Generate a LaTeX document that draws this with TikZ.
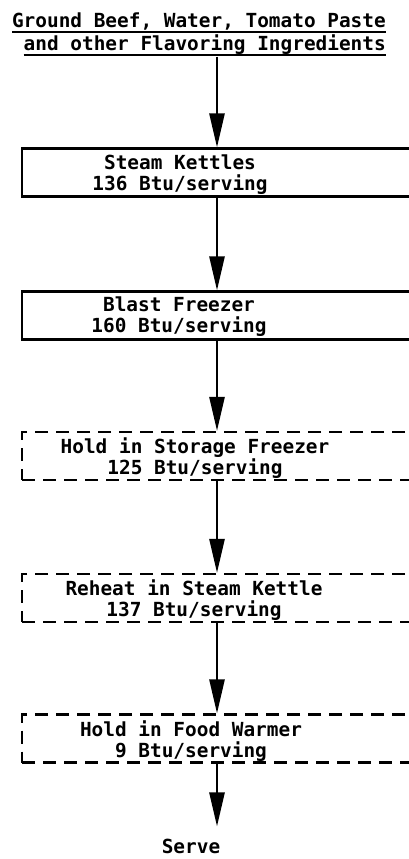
\documentclass[tikz,border=0pt]{standalone}
\usepackage{fontspec}
\setmonofont{DejaVu Sans Mono}
\usetikzlibrary{arrows.meta}
\newsavebox{\ulbox}
\newcommand{\ulinetext}[1]{\sbox\ulbox{#1}\rlap{\rule[-6pt]{\wd\ulbox}{2.2pt}}\usebox\ulbox}

\begin{document}
\begin{tikzpicture}[x=1pt, y=-1pt,
  boxtext/.style={font=\fontsize{19.4}{21}\selectfont\ttfamily\bfseries,
                  align=center, inner sep=0pt},
  solidbox/.style={draw, line width=2.2pt, anchor=west, inner sep=0pt,
                   minimum width=409pt, minimum height=48pt},
  dashbox/.style={solidbox, dash pattern=on 13pt off 8pt},
  flowarrow/.style={-{Triangle[length=34pt, width=15pt]}, line width=2.6pt}
]
\clip (0,0) rectangle (409,859);
\coordinate (spine) at (217,0);

% ingredients
\node[boxtext, font=\fontsize{19.4}{23}\selectfont\ttfamily\bfseries,
      align=right, anchor=north east] (ingredients) at (386,12.5)
  {\ulinetext{Ground Beef, Water, Tomato Paste}\\
   \ulinetext{and other Flavoring Ingredients}};

% process steps
\node[solidbox] (kettlesbox) at (21,172.5) {};
\node[boxtext] (kettles) at (180,174.4) {Steam Kettles\\136 Btu/serving};

\node[solidbox] (blastbox) at (21,315.5) {};
\node[boxtext] (blast) at (179,316.4) {Blast Freezer\\160 Btu/serving};

\node[dashbox] (storagebox) at (21,456) {};
\node[boxtext] (storage) at (195,458.4) {Hold in Storage Freezer\\125 Btu/serving};

\node[dashbox] (reheatbox) at (21,598) {};
\node[boxtext] (reheat) at (194,600.4) {Reheat in Steam Kettle\\137 Btu/serving};

\node[dashbox] (warmerbox) at (21,738.5) {};
\node[boxtext] (warmer) at (191,741) {Hold in Food Warmer\\9 Btu/serving};

\node[boxtext, inner ysep=12pt] (serve) at (191,846) {Serve};

% flow
\foreach \a/\b in {ingredients/kettlesbox, kettlesbox/blastbox, blastbox/storagebox,
                   storagebox/reheatbox, reheatbox/warmerbox, warmerbox/serve}
  \draw[flowarrow] (\a.south -| spine) -- (\b.north -| spine);
\end{tikzpicture}
\end{document}
